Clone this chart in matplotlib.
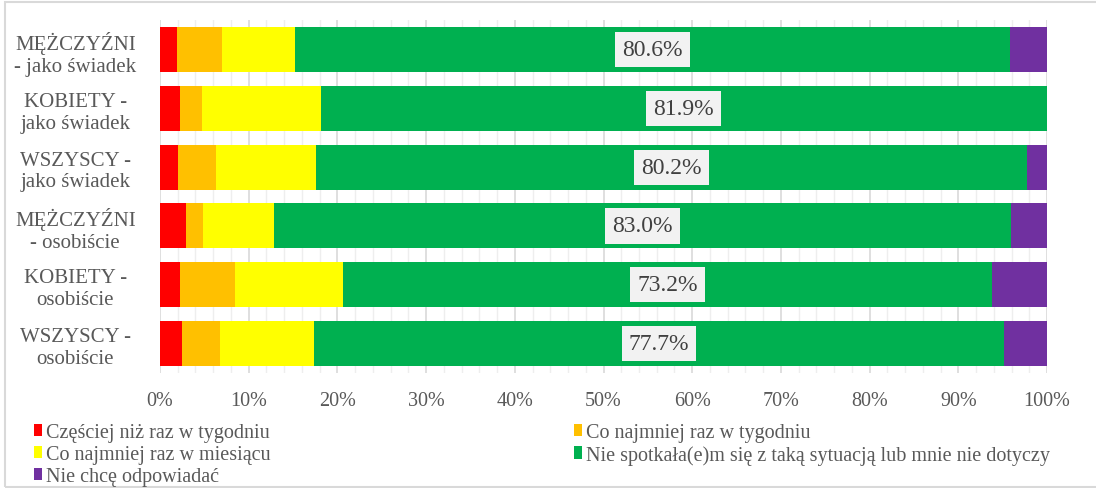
import matplotlib
matplotlib.use("Agg")
import matplotlib.pyplot as plt
from matplotlib.patches import Rectangle
from matplotlib.ticker import MultipleLocator, FuncFormatter
import numpy as np

categories = [
    "MĘŻCZYŹNI\n- jako świadek",
    "KOBIETY -\njako świadek",
    "WSZYSCY -\njako świadek",
    "MĘŻCZYŹNI\n- osobiście",
    "KOBIETY -\nosobiście",
    "WSZYSCY -\nosobiście",
]
series_names = [
    "Częściej niż raz w tygodniu",
    "Co najmniej raz w tygodniu",
    "Co najmniej raz w miesiącu",
    "Nie spotkała(e)m się z taką sytuacją lub mnie nie dotyczy",
    "Nie chcę odpowiadać",
]
more_than_weekly = [1.9, 2.3, 2.0, 2.9, 2.3, 2.5]
weekly = [5.1, 2.4, 4.3, 2.0, 6.2, 4.3]
monthly = [8.2, 13.4, 11.3, 8.0, 12.1, 10.6]
never = [80.6, 81.9, 80.2, 83.0, 73.2, 77.7]
no_answer = [4.2, 0.0, 2.2, 4.1, 6.2, 4.9]

colors = ["#ff0000", "#ffc000", "#ffff00", "#00b050", "#7030a0"]

plt.rcParams["font.family"] = ["Liberation Serif", "DejaVu Serif"]
text_color = "#595959"

fig = plt.figure(figsize=(10.96, 4.89), dpi=100)
ax = fig.add_axes([160 / 1096, 1 - 374 / 489, 887 / 1096, 353 / 489])

y = np.arange(len(categories))
left = np.zeros(len(categories))
handles = []
for name, vals, col in zip(series_names, [more_than_weekly, weekly, monthly, never, no_answer], colors):
    vals = np.array(vals)
    h = ax.barh(y, vals, left=left, height=0.765, color=col, label=name, zorder=3)
    handles.append(h)
    # value boxes only on the "never" segment
    if name.startswith("Nie spotka"):
        for yi, l, v in zip(y, left, vals):
            ax.text(l + v / 2, yi, f"{v:.1f}%", ha="center", va="center",
                    fontsize=17, color="#404040", zorder=4,
                    bbox=dict(boxstyle="square,pad=0.3", facecolor="#f2f2f2", edgecolor="none"))
    left += vals

ax.set_xlim(0, 100)
ax.set_ylim(5.5, -0.5)
ax.set_yticks(y)
ax.set_yticklabels(categories, fontsize=15, color=text_color, ha="center", linespacing=1.2)
ax.tick_params(axis="y", length=0, pad=61)
ax.xaxis.set_major_locator(MultipleLocator(10))
ax.xaxis.set_minor_locator(MultipleLocator(2))
ax.xaxis.set_major_formatter(FuncFormatter(lambda v, p: f"{v:.0f}%"))
ax.tick_params(axis="x", which="both", length=0, labelsize=14.5, labelcolor=text_color, pad=13)
ax.grid(axis="x", which="minor", color="#eeeeee", linewidth=1, zorder=0)
ax.grid(axis="x", which="major", color="#d9d9d9", linewidth=1.2, zorder=0)
for s in ax.spines.values():
    s.set_visible(False)

# row-wise legend order for a 2-column layout
order = [0, 2, 4, 1, 3]
fig.legend([handles[i] for i in order], [series_names[i] for i in order],
           ncol=2, loc="upper left", bbox_to_anchor=(26 / 1096, 1 - 416 / 489),
           frameon=False, fontsize=14.5, labelcolor=text_color,
           handlelength=0.4, handleheight=0.6, handletextpad=0.2,
           columnspacing=15.05, labelspacing=0.15, borderaxespad=0)

fig.patches.append(Rectangle((5 / 1096, 1 / 489), 1.0, 485 / 489, transform=fig.transFigure,
                             fill=False, edgecolor="#d9d9d9", linewidth=1.5))

fig.savefig("out.png", dpi=100)
